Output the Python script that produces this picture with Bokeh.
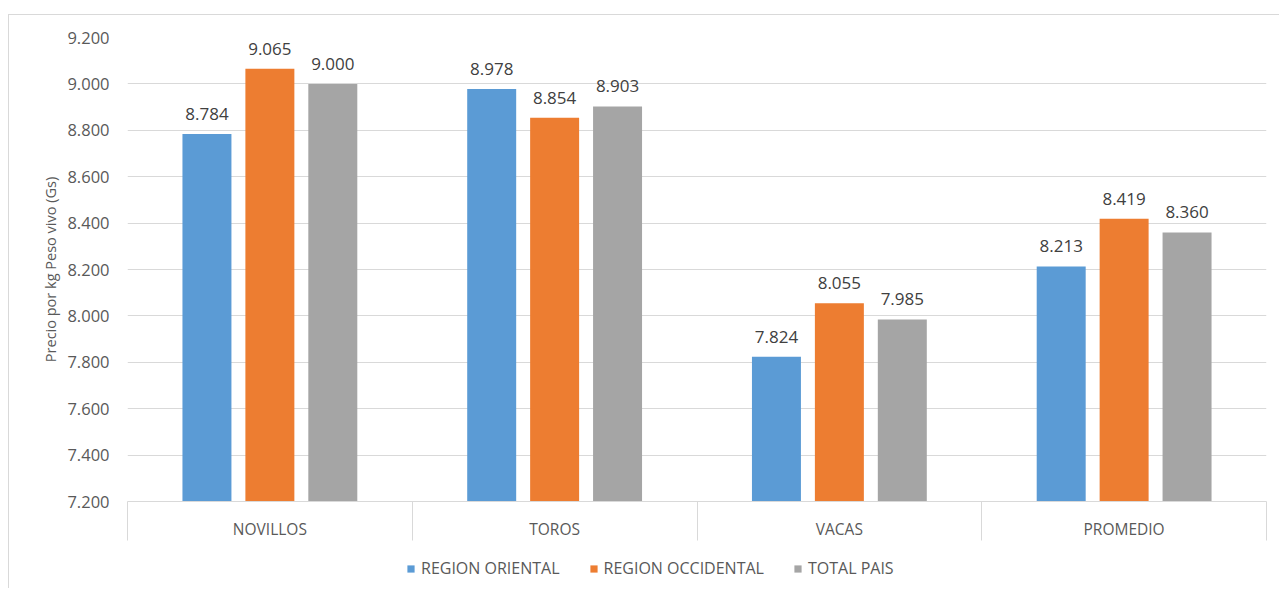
from bokeh.plotting import figure
from bokeh.layouts import column
from bokeh.models import ColumnDataSource, FixedTicker, Legend, LegendItem, LabelSet
from bokeh.core.properties import value
from bokeh.embed import file_html
from bokeh.resources import INLINE

categories = ["NOVILLOS", "TOROS", "VACAS", "PROMEDIO"]
series_names = ["REGION ORIENTAL", "REGION OCCIDENTAL", "TOTAL PAIS"]
region_oriental = [8784, 8978, 7824, 8213]
region_occidental = [9065, 8854, 8055, 8419]
total_pais = [9000, 8903, 7985, 8360]
y_ticks = [7200, 7400, 7600, 7800, 8000, 8200, 8400, 8600, 8800, 9000, 9200]
y_tick_labels = ["7.200", "7.400", "7.600", "7.800", "8.000", "8.200", "8.400", "8.600", "8.800", "9.000", "9.200"]
colors = ["#5B9BD5", "#ED7D31", "#A5A5A5"]

FONT = "Open Sans"
TXT = "#595959"
GRID = "#d9d9d9"

n = len(categories)
y0, y1 = y_ticks[0], y_ticks[-1]

p = figure(width=1270, height=533, x_range=(0, n), y_range=(y0, y1),
           output_backend="svg", toolbar_location=None,
           min_border_left=118, min_border_right=13, min_border_top=22, min_border_bottom=47)
p.outline_line_color = None
p.background_fill_color = "white"
p.border_fill_color = "white"

offsets = [-0.221, 0.0, 0.221]
bar_w = 0.172
for vals, off, col in zip([region_oriental, region_occidental, total_pais], offsets, colors):
    xs = [i + 0.5 + off for i in range(n)]
    src = ColumnDataSource(dict(x=xs, top=vals, bottom=[y0] * n,
                                lbl=["{:,}".format(v).replace(",", ".") for v in vals]))
    p.vbar(x="x", top="top", bottom="bottom", width=bar_w, source=src,
           fill_color=col, line_color=None)
    p.add_layout(LabelSet(x="x", y="top", text="lbl", source=src, text_align="center",
                          text_baseline="bottom", y_offset=14, text_font=value(FONT),
                          text_font_size="17px", text_color="#404040"))

# Y axis
p.yaxis.ticker = FixedTicker(ticks=y_ticks)
p.yaxis.major_label_overrides = {t: l for t, l in zip(y_ticks, y_tick_labels)}
p.yaxis.axis_line_color = None
p.yaxis.major_tick_line_color = None
p.yaxis.minor_tick_line_color = None
p.yaxis.major_label_text_font = FONT
p.yaxis.major_label_text_font_size = "16.5px"
p.yaxis.major_label_text_color = TXT
p.yaxis.major_label_standoff = 12
p.yaxis.axis_label = "Precio por kg Peso vivo (Gs)"
p.yaxis.axis_label_text_font = FONT
p.yaxis.axis_label_text_font_size = "14.5px"
p.yaxis.axis_label_text_font_style = "normal"
p.yaxis.axis_label_text_color = TXT
p.yaxis.axis_label_standoff = 4

p.ygrid.grid_line_color = GRID
p.ygrid.ticker = FixedTicker(ticks=y_ticks)
p.xgrid.grid_line_color = None

# X axis: labels at centers, separators as minor ticks at boundaries
centers = [i + 0.5 for i in range(n)]
p.xaxis.ticker = FixedTicker(ticks=centers, minor_ticks=list(range(n + 1)))
p.xaxis.major_label_overrides = {c: name for c, name in zip(centers, categories)}
p.xaxis.axis_line_color = GRID
p.xaxis.major_tick_line_color = None
p.xaxis.minor_tick_line_color = GRID
p.xaxis.minor_tick_out = 39
p.xaxis.minor_tick_in = 0
p.xaxis.major_tick_out = 0
p.xaxis.major_tick_in = 0
p.xaxis.major_label_standoff = -23
p.xaxis.major_label_text_font = FONT
p.xaxis.major_label_text_font_size = "15.5px"
p.xaxis.major_label_text_color = TXT

# Legend strip below the chart (proxy glyphs lie outside the visible range)
q = figure(width=1270, height=40, x_range=(0, 1), y_range=(0, 1),
           output_backend="svg", toolbar_location=None,
           min_border_left=0, min_border_right=0, min_border_top=0, min_border_bottom=0)
q.axis.visible = False
q.grid.visible = False
q.outline_line_color = None
q.background_fill_color = "white"
q.border_fill_color = "white"
items = []
for nm, col in zip(series_names, colors):
    r = q.vbar(x=[-5], top=[-5], bottom=[-6], width=0.1, fill_color=col, line_color=None)
    items.append(LegendItem(label=nm, renderers=[r]))
legend = Legend(items=items, orientation="horizontal", location=(279, 9),
                label_text_font=FONT, label_text_font_size="16px", label_text_color=TXT,
                glyph_width=9, glyph_height=9, label_standoff=6, spacing=29,
                border_line_color=None, background_fill_alpha=0, padding=0, margin=0)
q.add_layout(legend, "center")

layout = column(p, q, spacing=0,
                styles={"border-top": "1px solid #d9d9d9", "border-left": "1px solid #d9d9d9",
                        "margin-top": "14px", "margin-left": "8px"})

open("out.html", "w").write(file_html(layout, INLINE))
